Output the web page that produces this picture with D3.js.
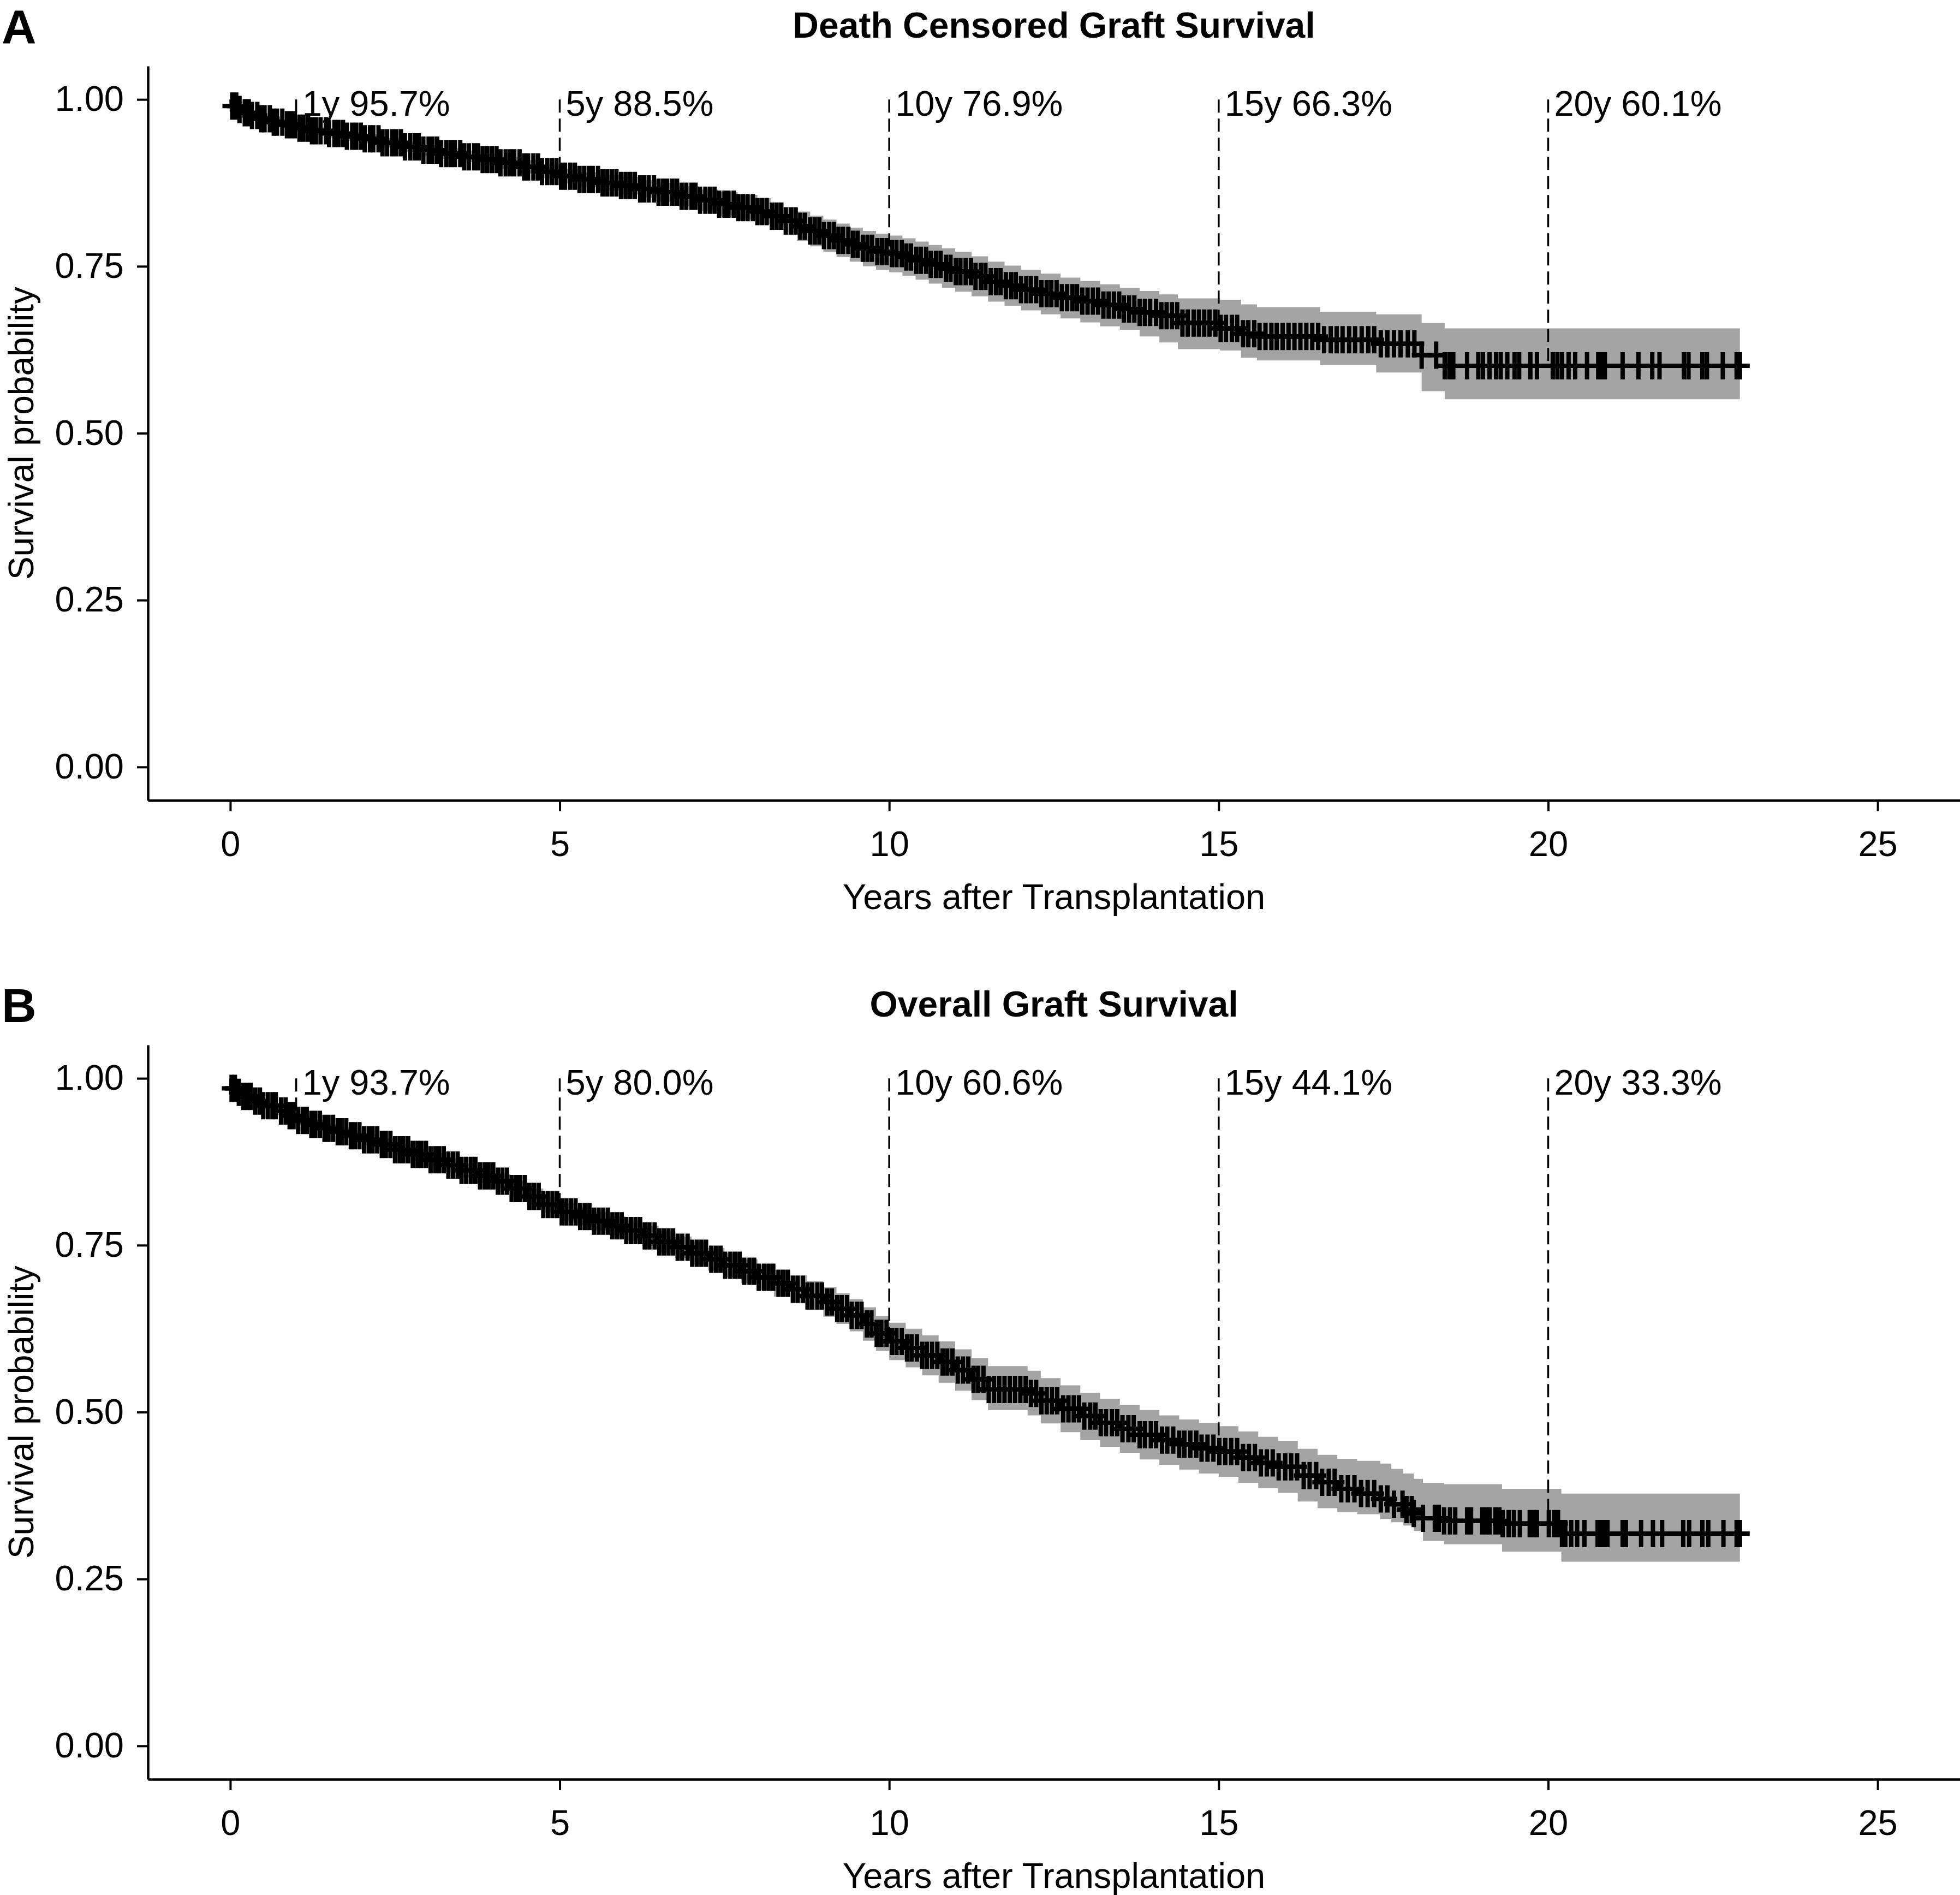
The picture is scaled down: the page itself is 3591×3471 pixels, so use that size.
<!DOCTYPE html>
<html>
<head>
<meta charset="utf-8">
<script src="https://cdn.jsdelivr.net/npm/d3@7"></script>
<style>
  html, body { margin: 0; padding: 0; background: #ffffff; }
  svg { display: block; }
  text { font-family: "Liberation Sans", Arial, Helvetica, sans-serif; }
</style>
</head>
<body>
<svg id="chart" width="3591" height="3471"></svg>
<script>
// ---------------- DATA ----------------
const xTicks = [0, 5, 10, 15, 20, 25];
const yTicks = [0, 0.25, 0.5, 0.75, 1];

const markYears = [1, 5, 10, 15, 20];

// Panel A: Death Censored Graft Survival
const dcgsTitle = "Death Censored Graft Survival";
const dcgsMarkValues = [0.957, 0.885, 0.769, 0.663, 0.601];
const dcgsMarkLabels = ["1y 95.7%", "5y 88.5%", "10y 76.9%", "15y 66.3%", "20y 60.1%"];
const dcgsTime  = [0, 0.02, 0.1, 0.2, 0.32, 0.46, 0.62, 0.8, 1.0, 1.22, 1.46, 1.72, 2.0, 2.3, 2.6, 2.9, 3.2, 3.5, 3.8, 4.1, 4.4, 4.7, 5.0, 5.3, 5.6, 5.9, 6.2, 6.5, 6.8, 7.1, 7.4, 7.7, 8.0, 8.2, 8.4, 8.6, 8.8, 9.0, 9.2, 9.4, 9.6, 9.8, 10.0, 10.2, 10.4, 10.6, 10.8, 11.0, 11.25, 11.5, 11.75, 12.0, 12.3, 12.6, 12.9, 13.2, 13.5, 13.8, 14.1, 14.38, 15.02, 15.34, 15.58, 16.54, 17.39, 18.08, 18.43, 22.91];
const dcgsSurv  = [1, 0.990, 0.985, 0.980, 0.976, 0.971, 0.966, 0.962, 0.957, 0.953, 0.949, 0.945, 0.941, 0.935, 0.929, 0.924, 0.919, 0.914, 0.910, 0.905, 0.899, 0.892, 0.885, 0.880, 0.875, 0.871, 0.866, 0.861, 0.855, 0.849, 0.843, 0.838, 0.832, 0.825, 0.818, 0.810, 0.803, 0.796, 0.789, 0.783, 0.777, 0.772, 0.769, 0.764, 0.759, 0.753, 0.747, 0.742, 0.735, 0.727, 0.721, 0.715, 0.709, 0.703, 0.698, 0.692, 0.686, 0.681, 0.676, 0.665, 0.657, 0.649, 0.645, 0.640, 0.634, 0.617, 0.601, 0.601];
const dcgsLower = [1, 0.987, 0.981, 0.976, 0.971, 0.966, 0.961, 0.957, 0.951, 0.947, 0.943, 0.938, 0.934, 0.928, 0.921, 0.916, 0.911, 0.906, 0.901, 0.896, 0.889, 0.882, 0.874, 0.869, 0.863, 0.858, 0.853, 0.847, 0.840, 0.833, 0.826, 0.820, 0.813, 0.805, 0.797, 0.788, 0.780, 0.772, 0.764, 0.757, 0.750, 0.745, 0.741, 0.736, 0.730, 0.724, 0.718, 0.712, 0.705, 0.697, 0.691, 0.684, 0.678, 0.672, 0.666, 0.660, 0.655, 0.645, 0.636, 0.626, 0.624, 0.613, 0.609, 0.602, 0.591, 0.563, 0.551, 0.551];
const dcgsUpper = [1, 0.993, 0.989, 0.984, 0.980, 0.976, 0.971, 0.967, 0.962, 0.959, 0.955, 0.951, 0.948, 0.942, 0.936, 0.932, 0.927, 0.923, 0.919, 0.914, 0.909, 0.903, 0.896, 0.891, 0.887, 0.884, 0.879, 0.875, 0.870, 0.865, 0.861, 0.857, 0.852, 0.846, 0.839, 0.832, 0.826, 0.820, 0.814, 0.808, 0.803, 0.799, 0.796, 0.792, 0.787, 0.782, 0.777, 0.772, 0.765, 0.757, 0.751, 0.745, 0.739, 0.733, 0.728, 0.723, 0.718, 0.713, 0.708, 0.702, 0.700, 0.693, 0.689, 0.682, 0.678, 0.665, 0.657, 0.657];
const dcgsCensor = [0.03, 0.09, 0.14, 0.22, 0.28, 0.33, 0.41, 0.47, 0.52, 0.6, 0.66, 0.71, 0.79, 0.86, 0.92, 0.98, 1.05, 1.11, 1.18, 1.24, 1.3, 1.37, 1.45, 1.5, 1.58, 1.64, 1.71, 1.77, 1.85, 1.91, 1.98, 2.04, 2.12, 2.17, 2.25, 2.31, 2.38, 2.46, 2.52, 2.59, 2.65, 2.73, 2.8, 2.86, 2.93, 3.01, 3.07, 3.14, 3.2, 3.28, 3.35, 3.41, 3.49, 3.55, 3.62, 3.7, 3.76, 3.83, 3.9, 3.97, 4.04, 4.1, 4.18, 4.25, 4.31, 4.39, 4.46, 4.52, 4.6, 4.67, 4.73, 4.81, 4.88, 4.95, 5.02, 5.08, 5.16, 5.23, 5.3, 5.37, 5.44, 5.5, 5.58, 5.65, 5.72, 5.79, 5.86, 5.93, 6.0, 6.07, 6.14, 6.22, 6.28, 6.35, 6.43, 6.5, 6.57, 6.63, 6.71, 6.78, 6.85, 6.92, 7.0, 7.06, 7.13, 7.21, 7.28, 7.35, 7.42, 7.5, 7.56, 7.64, 7.71, 7.78, 7.85, 7.93, 8.0, 8.07, 8.14, 8.22, 8.29, 8.36, 8.43, 8.51, 8.58, 8.65, 8.72, 8.8, 8.87, 8.94, 9.01, 9.09, 9.16, 9.23, 9.3, 9.38, 9.45, 9.52, 9.6, 9.67, 9.74, 9.82, 9.89, 9.96, 10.04, 10.11, 10.19, 10.26, 10.33, 10.41, 10.48, 10.56, 10.63, 10.71, 10.78, 10.86, 10.93, 11.01, 11.08, 11.16, 11.24, 11.31, 11.39, 11.46, 11.54, 11.62, 11.69, 11.77, 11.85, 11.92, 12.0, 12.08, 12.15, 12.23, 12.31, 12.39, 12.46, 12.54, 12.62, 12.7, 12.78, 12.85, 12.93, 13.01, 13.09, 13.17, 13.25, 13.33, 13.41, 13.49, 13.56, 13.64, 13.72, 13.8, 13.88, 13.96, 14.05, 14.13, 14.21, 14.29, 14.37, 14.45, 14.53, 14.62, 14.7, 14.78, 14.86, 14.95, 15.03, 15.11, 15.2, 15.28, 15.37, 15.45, 15.54, 15.62, 15.71, 15.8, 15.88, 15.97, 16.06, 16.15, 16.24, 16.33, 16.42, 16.51, 16.6, 16.7, 16.79, 16.88, 16.98, 17.07, 17.17, 17.27, 17.36, 17.46, 17.56, 17.66, 17.76, 17.87, 17.97, 18.08, 18.3, 18.43, 18.5, 18.56, 18.77, 18.94, 19.01, 19.11, 19.21, 19.28, 19.38, 19.49, 19.56, 19.73, 19.83, 20.07, 20.14, 20.21, 20.31, 20.41, 20.59, 20.76, 20.81, 20.86, 21.13, 21.37, 21.58, 21.69, 22.06, 22.13, 22.34, 22.41, 22.65, 22.86, 22.91];

// Panel B: Overall Graft Survival
const ogsTitle = "Overall Graft Survival";
const ogsMarkValues = [0.937, 0.800, 0.606, 0.441, 0.333];
const ogsMarkLabels = ["1y 93.7%", "5y 80.0%", "10y 60.6%", "15y 44.1%", "20y 33.3%"];
const ogsTime  = [0, 0.02, 0.1, 0.2, 0.35, 0.5, 0.7, 0.85, 1.0, 1.2, 1.4, 1.6, 1.8, 2.0, 2.25, 2.5, 2.75, 3.0, 3.25, 3.5, 3.75, 4.0, 4.25, 4.5, 4.75, 5.0, 5.25, 5.5, 5.75, 6.0, 6.25, 6.5, 6.75, 7.0, 7.25, 7.5, 7.75, 8.0, 8.25, 8.5, 8.75, 9.0, 9.2, 9.4, 9.6, 9.8, 10.0, 10.25, 10.5, 10.75, 11.0, 11.25, 11.5, 12.1, 12.3, 12.6, 12.9, 13.2, 13.5, 13.8, 14.1, 14.4, 14.7, 15.0, 15.3, 15.6, 15.9, 16.2, 16.5, 16.8, 17.1, 17.45, 17.62, 17.8, 17.96, 18.1, 18.42, 19.3, 20.2, 22.91];
const ogsSurv  = [1, 0.985, 0.979, 0.973, 0.966, 0.959, 0.951, 0.944, 0.937, 0.931, 0.925, 0.920, 0.914, 0.908, 0.901, 0.893, 0.886, 0.878, 0.870, 0.862, 0.854, 0.846, 0.835, 0.823, 0.811, 0.800, 0.793, 0.786, 0.779, 0.772, 0.764, 0.755, 0.747, 0.738, 0.729, 0.720, 0.711, 0.702, 0.693, 0.684, 0.674, 0.665, 0.655, 0.645, 0.632, 0.618, 0.606, 0.596, 0.585, 0.575, 0.563, 0.549, 0.534, 0.528, 0.517, 0.505, 0.494, 0.484, 0.475, 0.466, 0.458, 0.452, 0.446, 0.441, 0.432, 0.424, 0.418, 0.405, 0.395, 0.385, 0.378, 0.370, 0.362, 0.354, 0.348, 0.341, 0.337, 0.333, 0.318, 0.318];
const ogsLower = [1, 0.982, 0.975, 0.968, 0.961, 0.953, 0.945, 0.938, 0.931, 0.924, 0.918, 0.913, 0.906, 0.900, 0.892, 0.884, 0.876, 0.868, 0.860, 0.851, 0.843, 0.835, 0.823, 0.811, 0.799, 0.787, 0.780, 0.772, 0.765, 0.757, 0.749, 0.739, 0.731, 0.721, 0.712, 0.702, 0.693, 0.683, 0.673, 0.663, 0.653, 0.643, 0.632, 0.621, 0.607, 0.592, 0.578, 0.567, 0.555, 0.544, 0.532, 0.518, 0.503, 0.495, 0.483, 0.470, 0.458, 0.448, 0.439, 0.429, 0.421, 0.414, 0.408, 0.403, 0.394, 0.386, 0.379, 0.366, 0.356, 0.350, 0.347, 0.340, 0.335, 0.330, 0.322, 0.307, 0.302, 0.291, 0.276, 0.276];
const ogsUpper = [1, 0.988, 0.983, 0.978, 0.971, 0.965, 0.957, 0.950, 0.943, 0.938, 0.932, 0.927, 0.922, 0.916, 0.910, 0.902, 0.895, 0.888, 0.880, 0.873, 0.865, 0.857, 0.847, 0.835, 0.823, 0.813, 0.806, 0.800, 0.793, 0.787, 0.779, 0.771, 0.763, 0.755, 0.746, 0.738, 0.729, 0.721, 0.713, 0.705, 0.696, 0.687, 0.678, 0.669, 0.657, 0.644, 0.634, 0.625, 0.615, 0.606, 0.594, 0.581, 0.569, 0.562, 0.551, 0.540, 0.529, 0.520, 0.511, 0.503, 0.495, 0.489, 0.484, 0.479, 0.471, 0.463, 0.457, 0.445, 0.436, 0.430, 0.427, 0.423, 0.415, 0.408, 0.400, 0.394, 0.392, 0.385, 0.378, 0.378];
const ogsCensor = [0.02, 0.07, 0.13, 0.2, 0.26, 0.31, 0.38, 0.45, 0.5, 0.57, 0.64, 0.69, 0.77, 0.84, 0.9, 0.96, 1.03, 1.1, 1.16, 1.23, 1.29, 1.36, 1.43, 1.49, 1.56, 1.63, 1.69, 1.76, 1.83, 1.89, 1.96, 2.03, 2.1, 2.16, 2.23, 2.3, 2.36, 2.43, 2.5, 2.57, 2.63, 2.7, 2.77, 2.84, 2.9, 2.97, 3.04, 3.11, 3.17, 3.24, 3.31, 3.38, 3.45, 3.51, 3.58, 3.65, 3.72, 3.79, 3.86, 3.92, 3.99, 4.06, 4.13, 4.2, 4.27, 4.34, 4.4, 4.47, 4.54, 4.61, 4.68, 4.75, 4.82, 4.89, 4.96, 5.03, 5.1, 5.17, 5.24, 5.31, 5.38, 5.45, 5.52, 5.59, 5.66, 5.73, 5.8, 5.87, 5.94, 6.01, 6.08, 6.15, 6.22, 6.29, 6.36, 6.44, 6.51, 6.58, 6.65, 6.72, 6.79, 6.86, 6.94, 7.01, 7.08, 7.15, 7.22, 7.3, 7.37, 7.44, 7.51, 7.59, 7.66, 7.73, 7.8, 7.88, 7.95, 8.02, 8.1, 8.17, 8.24, 8.32, 8.39, 8.46, 8.54, 8.61, 8.69, 8.76, 8.83, 8.91, 8.98, 9.06, 9.13, 9.21, 9.28, 9.36, 9.43, 9.51, 9.58, 9.66, 9.73, 9.81, 9.88, 9.96, 10.04, 10.11, 10.19, 10.27, 10.34, 10.42, 10.5, 10.57, 10.65, 10.73, 10.81, 10.88, 10.96, 11.04, 11.12, 11.2, 11.28, 11.35, 11.43, 11.51, 11.59, 11.67, 11.75, 11.83, 11.91, 11.99, 12.07, 12.15, 12.23, 12.31, 12.39, 12.47, 12.55, 12.64, 12.72, 12.8, 12.88, 12.96, 13.05, 13.13, 13.21, 13.29, 13.38, 13.46, 13.54, 13.63, 13.71, 13.8, 13.88, 13.97, 14.05, 14.14, 14.22, 14.31, 14.4, 14.48, 14.57, 14.66, 14.74, 14.83, 14.92, 15.01, 15.1, 15.19, 15.28, 15.37, 15.46, 15.55, 15.64, 15.73, 15.82, 15.91, 16.01, 16.1, 16.19, 16.29, 16.38, 16.48, 16.57, 16.67, 16.76, 16.86, 16.96, 17.06, 17.16, 17.26, 17.36, 17.46, 17.56, 17.66, 17.79, 17.85, 17.93, 17.96, 18.1, 18.28, 18.34, 18.42, 18.51, 18.59, 18.77, 18.83, 19.0, 19.06, 19.11, 19.2, 19.26, 19.31, 19.4, 19.48, 19.57, 19.72, 19.78, 19.83, 20.01, 20.09, 20.15, 20.21, 20.26, 20.35, 20.44, 20.55, 20.75, 20.8, 20.84, 20.9, 21.13, 21.18, 21.41, 21.59, 21.73, 22.05, 22.14, 22.34, 22.43, 22.66, 22.86, 22.91];

// ---------------- LAYOUT ----------------
const svg = d3.select("#chart");
svg.append("rect").attr("width", 3591).attr("height", 3471).attr("fill", "#ffffff");

const FONT = 65;
const plotLeft = 271, plotRight = 3591, plotTop = 121, plotBottom = 1466;
const panelOffset = 1793;

const x = d3.scaleLinear().domain([-1.25, 26.25]).range([plotLeft, plotRight]);
const y = d3.scaleLinear().domain([-0.05, 1.05]).range([plotBottom, plotTop]);

function stepValue(times, surv, t) {
  let idx = 0;
  for (let i = 0; i < times.length; i++) { if (times[i] <= t) idx = i; }
  return surv[idx];
}

function drawPanel(offsetY, letter, title, times, surv, lower, upper, censor, markValues, markLabels) {
  const g = svg.append("g").attr("transform", `translate(0,${offsetY})`);

  const rows = times.map((t, i) => ({ t: t, s: surv[i], lo: lower[i], hi: upper[i] }));

  // confidence band
  const area = d3.area()
    .curve(d3.curveStepAfter)
    .x(d => x(d.t))
    .y0(d => y(d.lo))
    .y1(d => y(d.hi));
  g.append("path").datum(rows).attr("d", area).attr("fill", "#a4a4a4").attr("stroke", "none");

  // dashed reference lines
  g.selectAll("line.ref").data(markYears).enter().append("line")
    .attr("class", "ref")
    .attr("x1", d => x(d)).attr("x2", d => x(d))
    .attr("y1", y(1)).attr("y2", (d, i) => y(markValues[i]))
    .attr("stroke", "#000").attr("stroke-width", 3.5)
    .attr("stroke-dasharray", "24,11");

  // survival step line
  const line = d3.line().curve(d3.curveStepAfter).x(d => x(d.t)).y(d => y(d.s));
  g.append("path").datum(rows).attr("d", line)
    .attr("fill", "none").attr("stroke", "#000").attr("stroke-width", 8);

  // censor marks
  g.append("g").selectAll("path").data(censor).enter().append("path")
    .attr("d", d => {
      const cx = x(d), cy = y(stepValue(times, surv, d));
      return `M${cx - 18},${cy}H${cx + 18}M${cx},${cy - 25}V${cy + 25}`;
    })
    .attr("stroke", "#000").attr("stroke-width", 8).attr("fill", "none");

  // annotation labels
  g.selectAll("text.lab").data(markYears).enter().append("text")
    .attr("class", "lab")
    .attr("x", d => x(d) + 11)
    .attr("y", y(0.9755))
    .attr("font-size", FONT)
    .attr("fill", "#000")
    .text((d, i) => markLabels[i]);

  // axes
  const yAxis = d3.axisLeft(y).tickValues(yTicks).tickFormat(d3.format(".2f"))
    .tickSize(20).tickSizeOuter(0).tickPadding(24);
  const yg = g.append("g").attr("transform", `translate(${plotLeft},0)`).call(yAxis);
  yg.select(".domain").attr("stroke", "#000").attr("stroke-width", 4.5);
  yg.selectAll(".tick line").attr("stroke", "#000").attr("stroke-width", 4);
  yg.selectAll(".tick text").attr("font-size", FONT).attr("fill", "#000")
    .attr("font-family", "Liberation Sans, Arial, sans-serif");

  const xAxis = d3.axisBottom(x).tickValues(xTicks).tickFormat(d3.format("d"))
    .tickSize(20).tickSizeOuter(0).tickPadding(24);
  const xg = g.append("g").attr("transform", `translate(0,${plotBottom})`).call(xAxis);
  xg.select(".domain").attr("stroke", "#000").attr("stroke-width", 4.5);
  xg.selectAll(".tick line").attr("stroke", "#000").attr("stroke-width", 4);
  xg.selectAll(".tick text").attr("font-size", FONT).attr("fill", "#000")
    .attr("font-family", "Liberation Sans, Arial, sans-serif")
    .attr("y", 102).attr("dy", 0);

  // axis titles
  g.append("text")
    .attr("x", (plotLeft + plotRight) / 2).attr("y", 1665)
    .attr("text-anchor", "middle").attr("font-size", FONT).attr("fill", "#000")
    .text("Years after Transplantation");
  g.append("text")
    .attr("transform", `translate(61,${(plotTop + plotBottom) / 2}) rotate(-90)`)
    .attr("text-anchor", "middle").attr("font-size", 64).attr("fill", "#000")
    .text("Survival probability");

  // title
  g.append("text")
    .attr("x", (plotLeft + plotRight) / 2).attr("y", 69)
    .attr("text-anchor", "middle").attr("font-size", 66).attr("font-weight", "bold").attr("fill", "#000")
    .text(title);

  // panel letter
  g.append("text")
    .attr("x", 3).attr("y", 79)
    .attr("font-size", 88).attr("font-weight", "bold").attr("fill", "#000")
    .text(letter);
}

drawPanel(0, "A", dcgsTitle, dcgsTime, dcgsSurv, dcgsLower, dcgsUpper, dcgsCensor, dcgsMarkValues, dcgsMarkLabels);
drawPanel(panelOffset, "B", ogsTitle, ogsTime, ogsSurv, ogsLower, ogsUpper, ogsCensor, ogsMarkValues, ogsMarkLabels);
</script>
</body>
</html>
